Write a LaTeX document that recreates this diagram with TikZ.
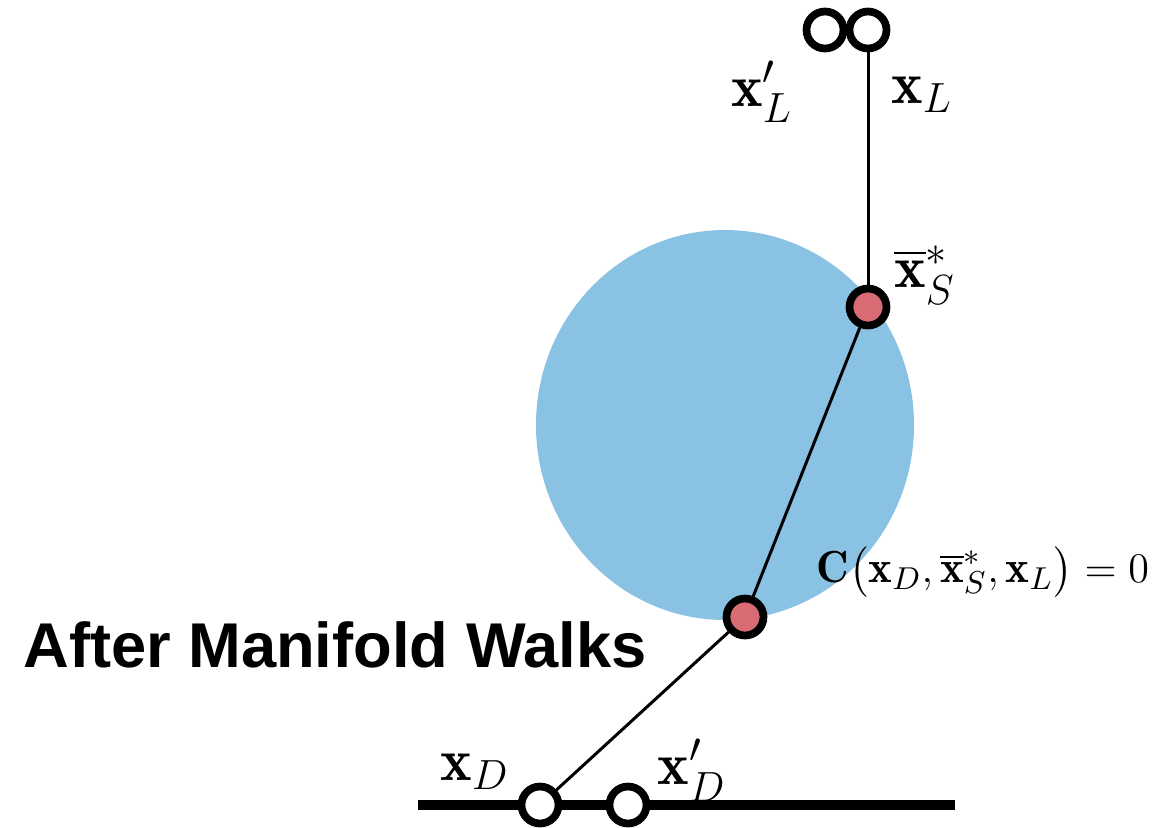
\documentclass[tikz,border=0pt]{standalone}
\usepackage{amsmath}
\usepackage{fontspec}
\newfontfamily\headfont{Liberation Sans}
\definecolor{walkblue}{HTML}{8AC2E4}
\definecolor{walkred}{HTML}{D96B75}
\usetikzlibrary{positioning}
\tikzset{
  opendot/.style={circle,draw=black,line width=2.2pt,fill=white,
                  minimum size=0.37cm,inner sep=0pt},
  reddot/.style={opendot,fill=walkred},
  link/.style={line width=0.85pt},
  ground/.style={line width=2.8pt},
  lbl/.style={font=\fontsize{17}{20}\selectfont}
}
\begin{document}
\begin{tikzpicture}
  \useasboundingbox (0,0) rectangle (11.69,8.27);

  %% manifold
  \fill[walkblue] (7.25,4.02) ellipse [x radius=1.89,y radius=1.95];

  %% ground line
  \coordinate (gl) at (4.18,0.22);
  \coordinate (gr) at (9.55,0.22);
  \draw[ground] (gl) -- (gr);

  %% points
  \node[opendot] (xLp) at (8.25,7.97) {};
  \node[opendot] (xL)  at (8.68,7.97) {};
  \node[reddot]  (xS)  at (8.68,5.20) {};
  \node[reddot]  (xC)  at (7.45,2.10) {};
  \node[opendot] (xD)  at (5.40,0.22) {};
  \node[opendot] (xDp) at (6.28,0.22) {};

  \draw[link] (xL) -- (xS);
  \draw[link] (xS) -- (xC);
  \draw[link] (xC) -- (xD);

  %% labels
  \node[lbl] (tLp) at (7.62,7.35) {$\mathbf{x}'_L$};
  \node[lbl] (tL)  at (9.22,7.32) {$\mathbf{x}_L$};
  \node[lbl] (tS)  at (9.25,5.52) {$\overline{\mathbf{x}}^*_S$};
  \node[font=\fontsize{12.8}{16}\selectfont,anchor=west,inner sep=0pt] (tC)
    at (8.16,2.55)
    {$\mathbf{C}\big(\mathbf{x}_D,\overline{\mathbf{x}}^*_S,\mathbf{x}_L\big)=0$};
  \node[lbl] (tD)  at (4.75,0.55) {$\mathbf{x}_D$};
  \node[lbl] (tDp) at (6.92,0.57) {$\mathbf{x}'_D$};

  \node[font=\headfont\bfseries\fontsize{18}{22}\selectfont] (title)
    at (3.35,1.82) {After Manifold Walks};
\end{tikzpicture}
\end{document}
